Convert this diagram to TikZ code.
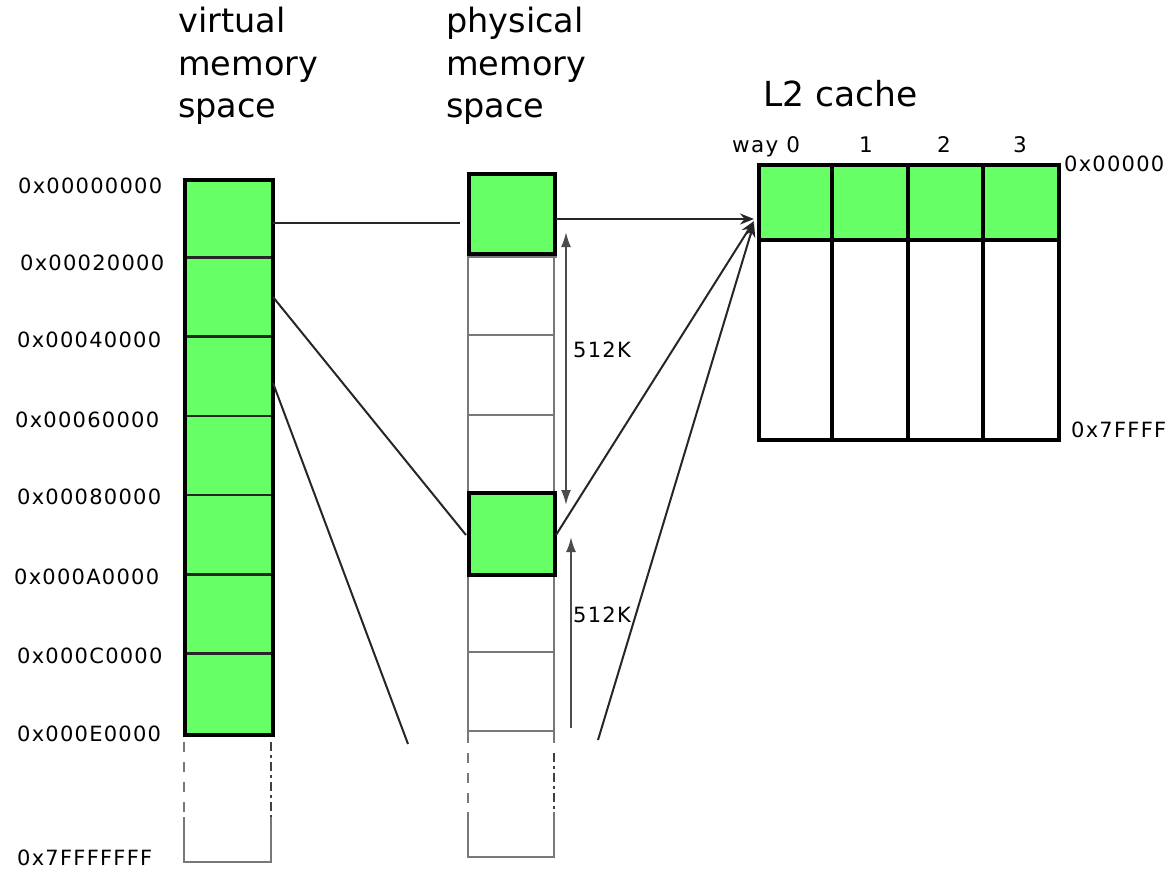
\documentclass[tikz,border=0pt]{standalone}
\usepackage{fontspec}
\setmainfont{DejaVu Sans}
\newfontfamily\labfont[LetterSpace=6]{DejaVu Sans}
\usetikzlibrary{arrows.meta}
\definecolor{cellgreen}{RGB}{102,255,102}
\definecolor{linegray}{RGB}{120,120,120}
\tikzset{
  hdr/.style={font=\fontsize{33.5}{40}\selectfont, inner sep=0pt, anchor=base west},
  addr/.style={font=\labfont\fontsize{21}{25}\selectfont, inner sep=0pt, anchor=west},
  waylab/.style={font=\labfont\fontsize{21.5}{25}\selectfont, inner sep=0pt},
  sizelab/.style={font=\labfont\fontsize{21}{25}\selectfont, inner sep=0pt, anchor=west},
  greenbox/.style={fill=cellgreen, draw=black, line width=4pt},
  graycell/.style={draw=linegray, line width=2.5pt},
  vdiv/.style={draw=black!85, line width=2.5pt},
  conn/.style={draw=black!85, line width=2pt},
  cachearrow/.style={conn, -{Stealth[length=14pt,width=11pt]}},
  sizearrow/.style={draw=black!70, line width=2pt},
  dashL/.style={draw=linegray, line width=2.5pt, dash pattern=on 10pt off 10pt},
  dashR/.style={draw=black!75, line width=2.5pt, dash pattern=on 9pt off 4pt on 3pt off 4pt},
}
\begin{document}
\begin{tikzpicture}[x=1pt,y=-1pt]
\useasboundingbox (0,0) rectangle (1170,872);

% ---------- headers ----------
\node[hdr] (hv1) at (178,33) {virtual};
\node[hdr] (hv2) at (178,76) {memory};
\node[hdr] (hv3) at (178,118) {space};
\node[hdr] (hp1) at (446,33) {physical};
\node[hdr] (hp2) at (446,76) {memory};
\node[hdr] (hp3) at (446,118) {space};
\node[hdr, font=\fontsize{34.5}{40}\selectfont] (hc) at (763,107) {L2 cache};

% ---------- virtual memory column ----------
\fill[cellgreen] (183,178) rectangle (271,733);
\foreach \yy in {257.3,336.6,415.9,495.1,574.4,653.7}
  \draw[vdiv] (183,\yy) -- (271,\yy);
\node[draw=black, line width=4pt, inner sep=0pt, minimum width=88pt, minimum height=555pt, anchor=north west] (vcol) at (183,178) {};
% continuation below
\draw[dashL] (184,742) -- (184,817);
\draw[dashR] (271,742) -- (271,817);
\draw[draw=linegray, line width=2.5pt] (184,817) -- (184,862) -- (271,862) -- (271,817);

% address labels
\node[addr] (a0) at (18,186) {0x00000000};
\node[addr] (a1) at (20,263) {0x00020000};
\node[addr] (a2) at (17,340) {0x00040000};
\node[addr] (a3) at (15,420) {0x00060000};
\node[addr] (a4) at (17,497) {0x00080000};
\node[addr] (a5) at (14,577) {0x000A0000};
\node[addr] (a6) at (17,656) {0x000C0000};
\node[addr] (a7) at (17,734) {0x000E0000};
\node[addr] (a8) at (17,858) {0x7FFFFFFF};

% ---------- physical memory column ----------
\draw[graycell] (468,252) -- (468,743);
\draw[graycell] (554,252) -- (554,743);
\draw[graycell] (468,257) -- (557,257);
\foreach \yy in {335,415,652,731}
  \draw[graycell] (468,\yy) -- (555,\yy);
\node[greenbox, inner sep=0pt, minimum width=86pt, minimum height=80pt, anchor=north west] (ptop) at (467,172) {};
\node[greenbox, inner sep=0pt, minimum width=86pt, minimum height=82pt, anchor=north west] (pmid) at (467,491) {};
\draw[dashL] (468,753) -- (468,812);
\draw[dashR] (554,753) -- (554,812);
\draw[draw=linegray, line width=2.5pt] (468,812) -- (468,857) -- (554,857) -- (554,812);

% ---------- L2 cache ----------
\fill[cellgreen] (757,163) rectangle (1057,240);
\draw[line width=4pt] (757,240) -- (1057,240);
\foreach \xx in {832,908,983}
  \draw[line width=4pt] (\xx,163) -- (\xx,438);
\node[draw=black, line width=4pt, inner sep=0pt, minimum width=300pt, minimum height=275pt, anchor=north west] (cache) at (757,163) {};
\node[waylab, anchor=base west] (w0) at (732,153) {way 0};
\node[waylab, anchor=base] (w1) at (866,153) {1};
\node[waylab, anchor=base] (w2) at (944,153) {2};
\node[waylab, anchor=base] (w3) at (1020,153) {3};
\node[addr] (ctop) at (1064,164) {0x00000};
\node[addr] (cbot) at (1071,430) {0x7FFFF};

% ---------- connectors ----------
\coordinate (vA) at (273,223);
\coordinate (pA) at (460,223);
\coordinate (vB) at (273,297);
\coordinate (pB) at (466,535);
\coordinate (vC) at (273,383);
\coordinate (fC) at (408,744);
\coordinate (pT) at (556,219);
\coordinate (cT1) at (754,219);
\coordinate (pM) at (556,535);
\coordinate (cT2) at (754,221);
\coordinate (fD) at (598,740);
\coordinate (cT3) at (754,223);
\draw[conn] (vA) -- (pA);
\draw[conn] (vB) -- (pB);
\draw[conn] (vC) -- (fC);
\draw[cachearrow] (pT) -- (cT1);
\draw[cachearrow] (pM) -- (cT2);
\draw[cachearrow] (fD) -- (cT3);

% 512K size arrows
\coordinate (s1a) at (566,232);
\coordinate (s1b) at (566,505);
\coordinate (s2a) at (571,728);
\coordinate (s2b) at (571,537);
\draw[sizearrow, {Latex[length=15pt,width=10pt]}-{Latex[length=15pt,width=10pt]}] (s1a) -- (s1b);
\draw[sizearrow, -{Latex[length=15pt,width=10pt]}] (s2a) -- (s2b);
\node[sizelab] (k1) at (573,350) {512K};
\node[sizelab] (k2) at (573,615) {512K};
\end{tikzpicture}
\end{document}
